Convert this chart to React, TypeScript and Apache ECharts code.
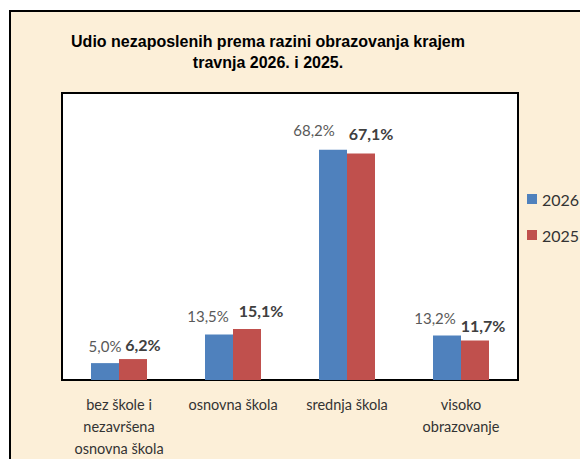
import React, { useEffect, useRef } from "react";
import * as echarts from "echarts";

const categories = [
  "bez škole i\nnezavršena\nosnovna škola",
  "osnovna škola",
  "srednja škola",
  "visoko\nobrazovanje",
];
const values2026 = [5.0, 13.5, 68.2, 13.2];
const values2025 = [6.2, 15.1, 67.1, 11.7];
const seriesNames = ["2026", "2025"];
const titleText = "Udio nezaposlenih prema razini obrazovanja krajem\ntravnja 2026. i 2025.";

// label nudges (styling only)
const shift2026 = [[0, 0], [-11, -1], [-19, -2], [-12, 0]];
const shift2025 = [[10, 3], [14, -1], [10, -2], [8, 3]];

const fmt = (v: number) => v.toFixed(1).replace(".", ",") + "%";
const BODY = "Lato, 'Open Sans', sans-serif";

export default function App() {
  const ref = useRef<HTMLDivElement>(null);
  useEffect(() => {
    if (!ref.current) return;
    const chart = echarts.init(ref.current, undefined, { renderer: "svg" });
    chart.setOption({
      animation: false,
      backgroundColor: "#ffffff",
      graphic: [
        {
          type: "rect",
          z: -10,
          silent: true,
          shape: { x: 10, y: 11, width: 620, height: 500 },
          style: { fill: "#FCEFD8", stroke: "#000000", lineWidth: 2 },
        },
      ],
      title: {
        text: titleText,
        left: 268,
        top: 31,
        padding: 0,
        textAlign: "center",
        textStyle: {
          fontFamily: "'Liberation Sans', Arial, sans-serif",
          fontWeight: "bold",
          fontSize: 16,
          lineHeight: 21,
          color: "#000000",
        },
      },
      legend: {
        orient: "vertical",
        left: 527,
        top: 191,
        padding: 0,
        itemWidth: 10,
        itemHeight: 10,
        itemGap: 20,
        icon: "rect",
        data: seriesNames,
        textStyle: { fontFamily: BODY, fontSize: 16, color: "#333333" },
      },
      grid: {
        left: 62,
        top: 93,
        width: 456,
        height: 287,
        show: true,
        backgroundColor: "#ffffff",
        borderColor: "#000000",
        borderWidth: 2,
        z: 1,
      },
      xAxis: {
        type: "category",
        data: categories,
        axisLine: { show: false },
        axisTick: { show: false },
        axisLabel: {
          interval: 0,
          margin: 13,
          fontFamily: BODY,
          fontSize: 14.5,
          lineHeight: 22,
          color: "#333333",
        },
      },
      yAxis: {
        type: "value",
        min: 0,
        max: 85,
        show: false,
        splitLine: { show: false },
      },
      series: [
        {
          name: seriesNames[0],
          type: "bar",
          barWidth: 28,
          barGap: "0%",
          itemStyle: { color: "#4F81BD" },
          data: values2026.map((v, i) => ({
            value: v,
            label: { offset: shift2026[i] },
          })),
          label: {
            show: true,
            position: "top",
            distance: 10,
            formatter: (p: any) => fmt(p.value),
            fontFamily: BODY,
            fontSize: 15,
            color: "#595959",
          },
        },
        {
          name: seriesNames[1],
          type: "bar",
          barWidth: 28,
          barGap: "0%",
          itemStyle: { color: "#C0504D" },
          data: values2025.map((v, i) => ({
            value: v,
            label: { offset: shift2025[i] },
          })),
          label: {
            show: true,
            position: "top",
            distance: 10,
            formatter: (p: any) => fmt(p.value),
            fontFamily: BODY,
            fontSize: 16,
            fontWeight: "bold",
            color: "#404040",
          },
        },
      ],
    });
    return () => chart.dispose();
  }, []);
  return (
    <div
      ref={ref}
      style={{ position: "fixed", left: 0, top: 0, width: 580, height: 459 }}
    />
  );
}
